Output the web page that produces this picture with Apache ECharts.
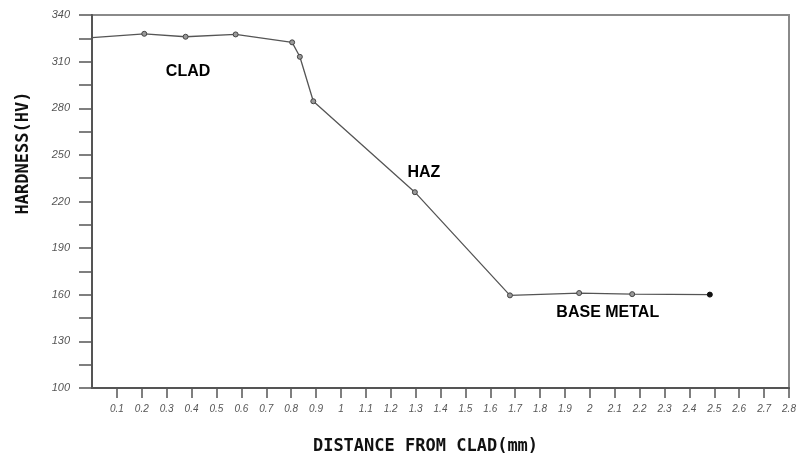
<!DOCTYPE html>
<html>

<head>
    <meta charset="utf-8">
    <title>Hardness profile</title>
    <script src="https://cdn.jsdelivr.net/npm/echarts@6/dist/echarts.min.js"></script>
    <style>
        html,
        body {
            margin: 0;
            padding: 0;
            background: #fff;
        }

        #main {
            width: 808px;
            height: 457px;
        }
    </style>
</head>

<body>
    <div id="main"></div>
    <script type="text/javascript">
        // distance from clad (mm) and hardness (HV)
        var distance = [0, 0.21, 0.376, 0.577, 0.804, 0.835, 0.889, 1.297, 1.679, 1.957, 2.17, 2.482];
        var hardness = [325.4, 327.9, 326, 327.5, 322.4, 313.1, 284.5, 226, 159.6, 161.1, 160.4, 160.1];

        // axis ranges / ticks
        var xRange = [0, 2.8];
        var xStep = 0.1;
        var yRange = [100, 340];
        var yStep = 30;

        // region labels and where they sit (data units)
        var regionNames = ['CLAD', 'HAZ', 'BASE METAL'];
        var regionX = [0.386, 1.333, 2.072];
        var regionY = [303.5, 238.7, 148.4];

        var pointData = distance.map(function (d, i) {
            var item = { value: [d, hardness[i]] };
            if (i === 0) item.symbol = 'none';
            if (i === distance.length - 1) {
                item.itemStyle = { color: '#111', borderColor: '#111' };
            }
            return item;
        });

        var labelData = regionNames.map(function (n, i) {
            return { name: n, value: [regionX[i], regionY[i]] };
        });

        var titleFont = {
            fontFamily: 'DejaVu Sans Mono',
            fontWeight: 'bold',
            fontSize: 17,
            color: '#111'
        };

        var myChart = echarts.init(document.getElementById('main'));
        var option = {
            animation: false,
            backgroundColor: '#fff',
            grid: {
                left: 92,
                right: 19,
                top: 15,
                bottom: 69,
                outerBoundsMode: 'none',
                containLabel: false,
                show: true,
                borderColor: '#8a8a8a',
                borderWidth: 2
            },
            xAxis: {
                type: 'value',
                min: xRange[0],
                max: xRange[1],
                interval: xStep,
                name: 'DISTANCE FROM CLAD(mm)',
                nameLocation: 'middle',
                nameGap: 50,
                nameTextStyle: Object.assign({ padding: [0, 30, 0, 0] }, titleFont),
                axisLine: { lineStyle: { color: '#555', width: 2 } },
                axisTick: { inside: false, length: 10, lineStyle: { color: '#555', width: 1.5 } },
                splitLine: { show: false },
                axisLabel: {
                    showMinLabel: false,
                    margin: 16,
                    fontFamily: 'Liberation Sans',
                    fontStyle: 'italic',
                    fontSize: 10,
                    color: '#555',
                    formatter: function (v) {
                        return String(Math.round(v * 10) / 10);
                    }
                }
            },
            yAxis: {
                type: 'value',
                min: yRange[0],
                max: yRange[1],
                interval: yStep,
                name: 'HARDNESS(HV)',
                nameLocation: 'middle',
                nameRotate: 90,
                nameGap: 60,
                nameTextStyle: Object.assign({ padding: [0, 0, 0, 97] }, titleFont),
                axisLine: { show: true, lineStyle: { color: '#555', width: 2 } },
                axisTick: { show: true, inside: false, length: 13, lineStyle: { color: '#555', width: 1.5 } },
                minorTick: { show: true, splitNumber: 2, length: 13, lineStyle: { color: '#555', width: 1.5 } },
                splitLine: { show: false },
                axisLabel: {
                    margin: 22,
                    fontFamily: 'Liberation Sans',
                    fontStyle: 'italic',
                    fontSize: 11,
                    color: '#555'
                }
            },
            series: [{
                type: 'line',
                data: pointData,
                symbol: 'circle',
                symbolSize: 5,
                lineStyle: { color: '#555', width: 1.3 },
                itemStyle: { color: '#999', borderColor: '#444', borderWidth: 1 }
            }, {
                type: 'scatter',
                data: labelData,
                symbolSize: 0,
                silent: true,
                itemStyle: { opacity: 1 },
                label: {
                    show: true,
                    position: 'inside',
                    formatter: '{b}',
                    fontFamily: 'Liberation Sans',
                    fontWeight: 'bold',
                    fontSize: 16,
                    color: '#000',
                    opacity: 1
                }
            }]
        };
        myChart.setOption(option);
    </script>
</body>

</html>
